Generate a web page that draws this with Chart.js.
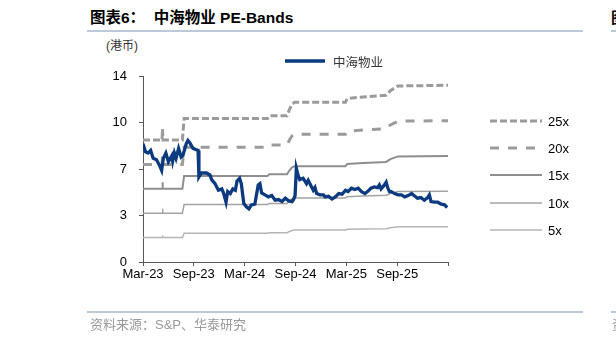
<!DOCTYPE html>
<html>
<head>
<meta charset="utf-8">
<script src="https://cdn.jsdelivr.net/npm/chart.js@4.4.1/dist/chart.umd.min.js"></script>
<style>
  body { margin: 0; width: 616px; height: 343px; position: relative; overflow: hidden; background: #fff;
         font-family: "Liberation Sans", Arial, "Noto Sans CJK SC", sans-serif; }
  canvas { position: absolute; left: 0; top: 0; }
  .abs { position: absolute; white-space: nowrap; }
  .rule { position: absolute; height: 2px; background: #bcc9d8; }
  #title { left: 90px; top: 10px; font-size: 15.5px; line-height: 16px; font-weight: bold; color: #000; }
  #unit { left: 106px; top: 39px; font-size: 12px; line-height: 14px; color: #333; }
  #source { left: 90px; top: 318px; font-size: 13px; line-height: 14px; color: #9a9a9a; }
  .leg { position: absolute; display: flex; align-items: center; white-space: nowrap; }
  .leg svg { display: block; }
</style>
</head>
<body>
<div class="abs" id="title">图表6：&nbsp; 中海物业 PE-Bands</div>
<div class="rule" style="left:87px;width:496px;top:30px"></div>
<div class="abs" style="left:611px;top:10px;font-size:15px;line-height:16px;font-weight:bold">图</div>
<div class="rule" style="left:611px;width:5px;top:30px"></div>
<div class="abs" id="unit">(港币)</div>
<canvas id="peChart" width="616" height="343"></canvas>
<div class="rule" style="left:87px;width:496px;top:311px"></div>
<div class="rule" style="left:611px;width:5px;top:311px"></div>
<div class="abs" id="source">资料来源：S&amp;P、华泰研究</div>
<div class="abs" style="left:612px;top:318px;font-size:13px;line-height:14px;color:#9a9a9a">资</div>

<script>
// x轴: Mar-23 起的月份数
const xTickLabels = ['Mar-23', 'Sep-23', 'Mar-24', 'Sep-24', 'Mar-25', 'Sep-25', ''];

// 股价 (港币)
const priceMonth = [
  0, 0.3, 0.6, 0.9, 1.2, 1.6, 2.0, 2.2, 2.4, 2.7,
  3.0, 3.4, 3.5, 3.7, 3.9, 4.2, 4.5, 4.7, 5.1, 5.3,
  5.5, 5.9, 6.3, 6.5, 6.6, 6.9, 7.5, 7.9, 8.1, 8.5,
  8.9, 9.3, 9.5, 9.8, 10.0, 10.3, 10.6, 10.9, 11.1, 11.4,
  11.6, 11.9, 12.2, 12.5, 12.8, 13.2, 13.6, 13.8, 14.0, 14.4,
  14.8, 15.2, 15.6, 16.0, 16.4, 16.8, 17.2, 17.6, 17.8, 17.95,
  18.1, 18.3, 18.5, 18.9, 19.3, 19.5, 19.9, 20.1, 20.3, 20.5,
  20.9, 21.3, 21.5, 21.9, 22.3, 22.7, 23.1, 23.5, 23.9, 24.2,
  24.6, 25.0, 25.4, 25.8, 26.2, 26.5, 26.9, 27.3, 27.7, 27.9,
  28.1, 28.5, 28.7, 28.9, 29.1, 29.3, 29.7, 30.1, 30.5, 30.9,
  31.3, 31.7, 32.1, 32.4, 32.8, 33.2, 33.6, 33.8, 34.0, 34.4,
  34.8, 35.2, 35.6, 35.9
];
const price = [
  8.9, 8.3, 8.2, 8.4, 7.8, 7.7, 7.2, 6.9, 7.8, 8.2,
  7.55, 8.0, 7.6, 8.2, 7.8, 8.55, 7.9, 8.0, 8.9, 9.15,
  9.0, 8.55, 8.45, 8.4, 6.4, 6.7, 6.7, 6.55, 6.2, 5.9,
  5.4, 5.5, 5.2, 4.5, 5.3, 5.15, 5.5, 5.4, 6.1, 6.3,
  5.9, 4.4, 4.15, 4.0, 4.3, 4.35, 5.8, 5.9, 5.2, 5.05,
  4.9, 5.0, 4.65, 4.7, 4.55, 4.8, 4.6, 4.55, 4.75, 5.0,
  7.05, 6.55, 6.2, 6.3, 5.9, 6.15, 5.65, 5.4, 5.6, 5.15,
  5.05, 5.05, 4.9, 4.95, 4.75, 4.9, 5.15, 5.1, 5.4, 5.3,
  5.55, 5.45, 5.55, 5.3, 5.15, 5.3, 5.55, 5.65, 5.6, 5.8,
  5.5, 5.8, 6.0, 5.55, 5.3, 5.3, 5.15, 5.05, 5.05, 4.9,
  5.0, 5.15, 4.95, 4.8, 4.85, 4.65, 4.85, 5.05, 4.55, 4.5,
  4.5, 4.35, 4.3, 4.1
];

// 滚动EPS (港币), 用于PE-Bands
const epsMonth = [0, 2.25, 2.3, 2.35, 4.65, 4.85, 14.7, 14.9, 17.0, 17.3, 17.6, 17.9, 23.9, 24.1, 26.0, 28.7, 29.2, 30.1, 36];
const eps = [0.367, 0.367, 0.4, 0.367, 0.367, 0.432, 0.432, 0.44, 0.44, 0.46, 0.475, 0.481, 0.481, 0.492, 0.497, 0.502, 0.516, 0.53, 0.532];

const multiples = [25, 20, 15, 10, 5];

const bandStyles = [
  { color: '#9b9b9b', width: 3, dash: [7, 3] },
  { color: '#9b9b9b', width: 3, dash: [9, 9] },
  { color: '#8e8e8e', width: 2, dash: [] },
  { color: '#a3a3a3', width: 1.5, dash: [] },
  { color: '#b5b5b5', width: 1.5, dash: [] },
];

const priceSet = {
  label: '中海物业',
  data: priceMonth.map((m, i) => ({ x: m, y: price[i] })),
  borderColor: '#0b3b7e',
  borderWidth: 3.3,
  pointRadius: 0,
  tension: 0,
};

const bandSets = multiples.map((k, j) => ({
  label: k + 'x',
  data: epsMonth.map((m, i) => ({ x: m, y: eps[i] * k })),
  borderColor: bandStyles[j].color,
  borderWidth: bandStyles[j].width,
  borderDash: bandStyles[j].dash,
  pointRadius: 0,
  tension: 0,
}));

const axisColor = '#595959';
const tickFont = { family: '"Liberation Sans", Arial', size: 13 };

let peChart = new Chart(document.getElementById('peChart'), {
  type: 'line',
  data: { datasets: [priceSet, ...bandSets] },
  options: {
    responsive: false,
    animation: false,
    devicePixelRatio: 1,
    layout: { padding: { left: 103, top: 76, right: 168, bottom: 51 } },
    plugins: { legend: { display: false }, tooltip: { enabled: false } },
    scales: {
      x: {
        type: 'linear',
        min: 0,
        max: 36,
        afterFit: (s) => { s.height = 30; },
        border: { color: axisColor, width: 1 },
        grid: { drawOnChartArea: false, tickLength: 4, color: axisColor },
        ticks: {
          stepSize: 6, autoSkip: false, maxRotation: 0, padding: 1,
          color: '#000', font: tickFont,
          callback: (v) => xTickLabels[v / 6] ?? '',
        },
      },
      y: {
        min: 0,
        max: 14,
        afterFit: (s) => { s.width = 40; },
        border: { color: axisColor, width: 1 },
        grid: { drawOnChartArea: false, tickLength: 4, color: axisColor },
        ticks: {
          stepSize: 3.5, padding: 12, color: '#000', font: tickFont,
          callback: (v) => Math.floor(v),
        },
      },
    },
  },
});

// 图例 (HTML)
const legendSpots = [
  { left: 285, top: 61, len: 40, gap: 8, size: 12.5, color: '#333' },
  { left: 490, top: 121, len: 52, gap: 6, size: 13, color: '#000' },
  { left: 490, top: 148, len: 52, gap: 6, size: 13, color: '#000' },
  { left: 490, top: 175, len: 52, gap: 6, size: 13, color: '#000' },
  { left: 490, top: 203, len: 52, gap: 6, size: 13, color: '#000' },
  { left: 490, top: 230, len: 52, gap: 6, size: 13, color: '#000' },
];
peChart.data.datasets.forEach((ds, i) => {
  const spot = legendSpots[i];
  const item = document.createElement('div');
  item.className = 'leg';
  item.style.left = spot.left + 'px';
  item.style.top = (spot.top - 8) + 'px';
  item.style.height = '16px';
  const dash = (ds.borderDash || []).join(' ');
  item.innerHTML =
    '<svg width="' + spot.len + '" height="16"><line x1="0" y1="8" x2="' + spot.len + '" y2="8" stroke="' +
    ds.borderColor + '" stroke-width="' + ds.borderWidth + '"' + (dash ? ' stroke-dasharray="' + dash + '"' : '') +
    '/></svg>';
  const txt = document.createElement('span');
  txt.textContent = ds.label;
  txt.style.marginLeft = spot.gap + 'px';
  txt.style.fontSize = spot.size + 'px';
  txt.style.color = spot.color;
  if (i === 0) txt.style.fontFamily = '"Noto Sans CJK SC", sans-serif';
  item.appendChild(txt);
  document.body.appendChild(item);
});
</script>
</body>
</html>
